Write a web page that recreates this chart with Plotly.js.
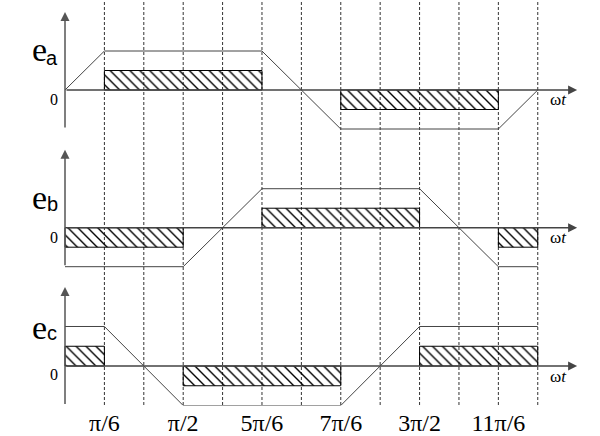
<!DOCTYPE html>
<html>
<head>
<meta charset="utf-8">
<script src="https://cdn.plot.ly/plotly-3.0.1.min.js"></script>
<style>html,body{margin:0;padding:0;background:#fff;}#chart{width:600px;height:436px;}</style>
</head>
<body>
<div id="chart"></div>
<script>
// electrical angle in degrees (π/6 = 30°), amplitude in units of E
const tickVals = [30, 90, 150, 210, 270, 330];
const tickText = ['π/6', 'π/2', '5π/6', '7π/6', '3π/2', '11π/6'];
const gridX = [30, 60, 90, 120, 150, 180, 210, 240, 270, 300, 330, 360];

const eaX = [0, 30, 150, 210, 330, 360];
const eaY = [0, 1, 1, -1, -1, 0];
const ebX = [0, 90, 150, 270, 330, 360];
const ebY = [-1, -1, 1, 1, -1, -1];
const ecX = [0, 30, 90, 210, 270, 360];
const ecY = [1, 1, -1, -1, 1, 1];

// conduction blocks: [start, end, level]
const eaBlocks = [[30, 150, 0.5], [210, 330, -0.5]];
const ebBlocks = [[0, 90, -0.5], [150, 270, 0.5], [330, 360, -0.5]];
const ecBlocks = [[0, 30, 0.5], [90, 210, -0.5], [270, 360, 0.5]];

const axisEnd = 390;   // end of the ωt arrow
const yTop = 2, yBottom = -1;

const SERIF = 'Liberation Serif';
const SANS = 'Liberation Sans';

const panels = [
  {name: 'a', x: eaX, y: eaY, blocks: eaBlocks, xa: 'x', ya: 'y'},
  {name: 'b', x: ebX, y: ebY, blocks: ebBlocks, xa: 'x2', ya: 'y2'},
  {name: 'c', x: ecX, y: ecY, blocks: ecBlocks, xa: 'x3', ya: 'y3'}
];

const traces = [];
const annotations = [];
const W = 600, H = 436;
const labelPos = {
  a: {e: [39, 50], s: [52, 58], z: [54, 99], w: [558, 99]},
  b: {e: [39, 197], s: [52, 204], z: [54, 237], w: [558, 238]},
  c: {e: [39, 327], s: [52, 333], z: [54, 374], w: [558, 376]}
};

panels.forEach(p => {
  p.blocks.forEach(b => {
    traces.push({
      type: 'scatter', mode: 'lines', xaxis: p.xa, yaxis: p.ya,
      x: [b[0], b[0], b[1], b[1], b[0]],
      y: [0, b[2], b[2], 0, 0],
      fill: 'toself', fillcolor: 'rgba(255,255,255,0)',
      fillpattern: {shape: '\\', size: 7, solidity: 0.2, fgcolor: '#000', bgcolor: 'rgba(255,255,255,0)'},
      line: {color: '#000', width: 1}, hoverinfo: 'skip'
    });
  });
  traces.push({
    type: 'scatter', mode: 'lines', xaxis: p.xa, yaxis: p.ya,
    x: p.x, y: p.y, line: {color: '#444', width: 1}, hoverinfo: 'skip'
  });
  const xr = p.xa, yr = p.ya;
  annotations.push({xref: xr, yref: yr, axref: xr, ayref: yr, x: axisEnd, y: 0, ax: 0, ay: 0,
    text: '', showarrow: true, arrowhead: 2, arrowsize: 1.2, arrowwidth: 1.5, arrowcolor: '#444', standoff: 0});
  annotations.push({xref: xr, yref: yr, axref: xr, ayref: yr, x: 0, y: yTop, ax: 0, ay: yBottom,
    text: '', showarrow: true, arrowhead: 2, arrowsize: 1.2, arrowwidth: 1.5, arrowcolor: '#555', standoff: 0});
  const L = labelPos[p.name];
  annotations.push({xref: 'paper', yref: 'paper', x: L.e[0] / W, y: 1 - L.e[1] / H, text: 'e',
    showarrow: false, xanchor: 'center', yanchor: 'middle', font: {family: SERIF, size: 34, color: '#000'}});
  annotations.push({xref: 'paper', yref: 'paper', x: L.s[0] / W, y: 1 - L.s[1] / H, text: p.name,
    showarrow: false, xanchor: 'center', yanchor: 'middle', font: {family: SANS, size: 20, color: '#000'}});
  annotations.push({xref: 'paper', yref: 'paper', x: L.z[0] / W, y: 1 - L.z[1] / H, text: '0',
    showarrow: false, xanchor: 'center', yanchor: 'middle', font: {family: SERIF, size: 16, color: '#000'}});
  annotations.push({xref: 'paper', yref: 'paper', x: L.w[0] / W, y: 1 - L.w[1] / H, text: 'ω<i>t</i>',
    showarrow: false, xanchor: 'center', yanchor: 'middle', font: {family: SERIF, size: 17, color: '#000'}});
});

const shapes = gridX.map(g => ({
  type: 'line', xref: 'x', yref: 'paper', x0: g, x1: g, y0: 1 - 405 / H, y1: 1,
  line: {color: '#333', width: 1, dash: '3px,2px'}, layer: 'below'
}));

const xBase = {range: [-49.5, 407.4], showgrid: false, zeroline: false, showline: false,
  ticks: '', showticklabels: false, fixedrange: true};
const yBase = {showgrid: false, zeroline: false, showline: false, ticks: '', showticklabels: false, fixedrange: true};

const layout = {
  width: W, height: H, margin: {l: 0, r: 0, t: 0, b: 0},
  paper_bgcolor: '#fff', plot_bgcolor: 'rgba(0,0,0,0)', showlegend: false,
  font: {family: SERIF},
  xaxis: Object.assign({}, xBase, {anchor: 'y'}),
  xaxis2: Object.assign({}, xBase, {anchor: 'y2'}),
  xaxis3: Object.assign({}, xBase, {anchor: 'y3', showticklabels: true, tickmode: 'array',
    tickvals: tickVals, ticktext: tickText, tickfont: {family: SERIF, size: 24, color: '#000'}}),
  yaxis: Object.assign({}, yBase, {domain: [1 - 140 / H, 1], range: [-1.282, 2.308]}),
  yaxis2: Object.assign({}, yBase, {domain: [1 - 280 / H, 1 - 140 / H], range: [-1.341, 2.249]}),
  yaxis3: Object.assign({}, yBase, {domain: [1 - 405.5 / H, 1 - 280 / H], range: [-1, 2.177]}),
  shapes: shapes, annotations: annotations
};

Plotly.newPlot('chart', traces, layout, {staticPlot: true, displayModeBar: false});
</script>
</body>
</html>
